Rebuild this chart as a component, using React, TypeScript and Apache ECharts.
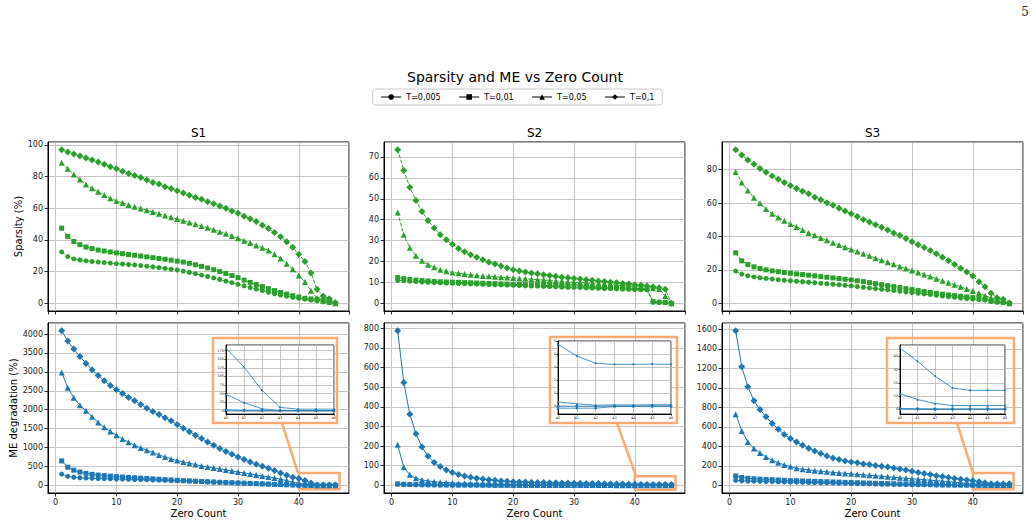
import React, { useEffect, useRef } from "react";
import * as echarts from "echarts";

// ---------- data ----------
const zeroCount = [1, 2, 3, 4, 5, 6, 7, 8, 9, 10, 11, 12, 13, 14, 15, 16, 17, 18, 19, 20, 21, 22, 23, 24, 25, 26, 27, 28, 29, 30, 31, 32, 33, 34, 35, 36, 37, 38, 39, 40, 41, 42, 43, 44, 45, 46];
const thresholdNames = ["T=0,005", "T=0,01", "T=0,05", "T=0,1"];
const panelTitles = ["S1", "S2", "S3"];

// S1 sparsity (%)
const s1SpT005 = [32.4, 29.5, 28.0, 27.3, 26.8, 26.4, 26.0, 25.7, 25.4, 25.0, 24.8, 24.5, 24.2, 23.8, 23.4, 23.0, 22.5, 22.0, 21.5, 21.0, 20.3, 19.5, 18.7, 17.8, 16.9, 16.0, 15.0, 14.0, 13.0, 12.0, 11.0, 10.0, 9.0, 8.0, 7.0, 6.0, 5.2, 4.5, 3.8, 3.2, 2.6, 2.0, 1.5, 1.0, 0.5, 0.0];
const s1SpT01 = [47.4, 42.2, 39.0, 37.0, 35.5, 34.5, 33.6, 33.0, 32.4, 31.8, 31.3, 30.8, 30.3, 29.8, 29.3, 28.8, 28.3, 27.8, 27.2, 26.6, 26.0, 25.2, 24.3, 23.3, 22.3, 21.2, 20.0, 18.8, 17.5, 16.2, 14.6, 13.2, 11.8, 10.5, 9.2, 8.0, 6.8, 5.8, 4.8, 4.0, 3.2, 2.8, 2.5, 2.0, 1.5, 0.0];
const s1SpT05 = [88.7, 84.8, 81.2, 78.1, 75.0, 72.5, 70.3, 68.3, 66.3, 64.6, 63.3, 62.0, 60.9, 59.8, 58.7, 57.6, 56.5, 55.4, 54.3, 53.2, 52.1, 51.0, 49.9, 48.8, 47.6, 46.4, 45.2, 43.9, 42.5, 41.0, 39.5, 38.0, 36.5, 35.0, 33.3, 31.0, 28.3, 25.0, 21.5, 17.5, 13.5, 8.0, 3.3, 1.8, 1.0, 0.0];
const s1SpT1 = [96.9, 95.4, 94.2, 92.9, 91.6, 90.4, 89.1, 87.7, 86.2, 84.8, 83.3, 81.8, 80.6, 79.3, 77.7, 76.2, 75.2, 73.5, 72.4, 71.0, 69.5, 68.1, 66.8, 65.6, 64.1, 62.8, 61.4, 59.9, 58.2, 56.8, 54.9, 53.4, 51.6, 49.3, 47.2, 44.7, 42.0, 38.8, 35.3, 30.9, 26.3, 19.2, 8.8, 4.6, 2.9, 0.4];

// S1 ME degradation (%)
const s1MeT005 = [295, 238, 212, 200, 192, 186, 180, 175, 170, 166, 162, 158, 154, 150, 146, 141, 137, 132, 127, 122, 117, 112, 106, 100, 94, 88, 82, 76, 70, 64, 58, 52, 46, 40, 34, 28, 22, 16, 10, 2, 1, 0.5, 0.5, 0.5, 0.5, 0.5];
const s1MeT01 = [645, 478, 400, 350, 315, 290, 270, 255, 242, 230, 220, 210, 200, 190, 180, 170, 160, 150, 140, 132, 124, 116, 108, 100, 92, 85, 78, 72, 66, 60, 54, 48, 42, 36, 30, 24, 18, 13, 9, 3, 2, 2, 1, 1, 1, 1];
const s1MeT05 = [2985, 2578, 2313, 2119, 1969, 1810, 1660, 1536, 1422, 1325, 1227, 1139, 1060, 989, 927, 865, 804, 751, 698, 653, 618, 583, 547, 512, 486, 459, 433, 406, 380, 353, 327, 300, 274, 247, 221, 194, 159, 124, 85, 48, 24, 6, 1, 1, 1, 1];
const s1MeT1 = [4088, 3815, 3603, 3408, 3223, 3055, 2905, 2764, 2640, 2525, 2428, 2322, 2234, 2137, 2040, 1951, 1872, 1784, 1704, 1607, 1510, 1413, 1325, 1236, 1148, 1060, 971, 892, 821, 751, 680, 618, 556, 503, 450, 389, 327, 265, 215, 182, 127, 60, 10, 5, 5, 5];

// S2 sparsity (%)
const s2SpT005 = [11.0, 10.8, 10.6, 10.4, 10.2, 10.0, 9.9, 9.8, 9.7, 9.6, 9.5, 9.4, 9.3, 9.2, 9.1, 9.0, 8.9, 8.8, 8.7, 8.6, 8.5, 8.4, 8.3, 8.2, 8.1, 8.0, 7.9, 7.8, 7.7, 7.6, 7.5, 7.4, 7.3, 7.2, 7.1, 7.0, 6.9, 6.8, 6.7, 6.6, 6.5, 6.4, 0.5, 0.4, 0.3, 0.0];
const s2SpT01 = [12.3, 11.8, 11.4, 11.1, 10.9, 10.7, 10.5, 10.3, 10.2, 10.1, 10.0, 9.9, 9.8, 9.7, 9.6, 9.5, 9.4, 9.3, 9.2, 9.1, 9.0, 8.9, 8.8, 8.7, 8.6, 8.5, 8.4, 8.3, 8.2, 8.1, 8.0, 7.9, 7.8, 7.7, 7.6, 7.5, 7.4, 7.3, 7.2, 7.1, 7.0, 6.9, 0.8, 0.6, 0.4, 0.0];
const s2SpT05 = [43.4, 32.8, 26.6, 22.8, 20.4, 18.5, 17.2, 16.1, 15.4, 14.8, 14.4, 14.0, 13.7, 13.4, 13.1, 12.9, 12.7, 12.5, 12.3, 12.1, 11.9, 11.7, 11.5, 11.3, 11.1, 10.9, 10.7, 10.5, 10.3, 10.1, 9.9, 9.7, 9.5, 9.3, 9.1, 8.9, 8.7, 8.5, 8.3, 8.1, 7.9, 7.6, 7.2, 6.8, 3.5, 0.0];
const s2SpT1 = [73.5, 63.6, 55.5, 49.2, 43.9, 39.6, 36.0, 32.8, 30.4, 28.2, 26.2, 24.7, 23.2, 22.0, 20.8, 19.7, 18.8, 17.8, 16.9, 16.1, 15.5, 15.0, 14.5, 14.1, 13.7, 13.3, 12.9, 12.5, 12.2, 11.9, 11.6, 11.3, 11.0, 10.7, 10.4, 10.1, 9.8, 9.5, 9.2, 8.9, 8.6, 8.3, 7.9, 7.5, 6.7, 0.0];

// S2 ME degradation (%)
const s2MeT005 = [5, 3.5, 2.8, 2.3, 2.0, 1.7, 1.5, 1.3, 1.15, 1.0, 0.9, 0.8, 0.7, 0.62, 0.55, 0.48, 0.42, 0.36, 0.3, 0.25, 0.2, 0.16, 0.12, 0.08, 0.05, 0.02, 0.0, -0.02, -0.04, -0.06, -0.08, -0.1, -0.11, -0.12, -0.13, -0.14, -0.15, -0.15, -0.15, -0.15, -0.15, -0.15, -0.03, -0.03, -0.03, -0.03];
const s2MeT01 = [7, 5, 4, 3.5, 3, 2.6, 2.3, 2.0, 1.8, 1.6, 1.4, 1.3, 1.2, 1.1, 1.0, 0.9, 0.8, 0.7, 0.6, 0.55, 0.5, 0.45, 0.4, 0.35, 0.3, 0.25, 0.2, 0.18, 0.15, 0.12, 0.1, 0.08, 0.06, 0.05, 0.04, 0.03, 0.02, 0.01, 0.0, 0.0, 0.0, 0.0, 0.02, 0.02, 0.03, 0.03];
const s2MeT05 = [206, 92, 53, 36, 27, 22, 18, 15, 13, 11, 9.5, 8.3, 7.3, 6.4, 5.6, 5.0, 4.4, 3.9, 3.5, 3.1, 2.8, 2.5, 2.2, 2.0, 1.8, 1.6, 1.4, 1.3, 1.2, 1.1, 1.0, 0.9, 0.8, 0.75, 0.7, 0.65, 0.6, 0.5, 0.4, 0.33, 0.18, 0.08, 0.1, 0.1, 0.12, 0.12];
const s2MeT1 = [788, 524, 362, 263, 195, 148, 116, 96, 78, 65, 55, 47, 41, 36, 32, 28, 25, 22, 20, 18, 17, 16, 15.2, 14.5, 13.8, 13.1, 12.5, 11.9, 11.3, 10.7, 10.1, 9.5, 8.9, 8.3, 7.7, 7.1, 6.5, 6.0, 5.4, 4.77, 3.87, 3.31, 3.23, 3.23, 3.25, 3.23];

// S3 sparsity (%)
const s3SpT005 = [19.3, 17.5, 16.5, 15.8, 15.3, 14.9, 14.5, 14.1, 13.8, 13.5, 13.2, 12.9, 12.6, 12.3, 12.0, 11.7, 11.4, 11.1, 10.8, 10.4, 10.0, 9.6, 9.2, 8.8, 8.4, 8.0, 7.6, 7.2, 6.8, 6.4, 6.0, 5.6, 5.2, 4.8, 4.4, 4.0, 3.6, 3.2, 2.9, 2.6, 2.3, 2.0, 1.0, 0.6, 0.3, 0.0];
const s3SpT01 = [30.2, 25.4, 23.2, 21.8, 20.8, 20.0, 19.4, 18.9, 18.4, 18.0, 17.6, 17.2, 16.8, 16.4, 16.0, 15.6, 15.2, 14.8, 14.4, 14.0, 13.5, 13.0, 12.4, 11.8, 11.2, 10.6, 10.0, 9.4, 8.8, 8.2, 7.6, 7.0, 6.5, 6.0, 5.5, 5.0, 4.6, 4.2, 3.8, 3.4, 3.0, 2.6, 1.5, 1.0, 0.6, 0.0];
const s3SpT05 = [78.6, 72.3, 67.5, 63.1, 59.8, 56.4, 53.6, 51.4, 49.4, 47.4, 45.7, 43.9, 42.1, 40.7, 39.1, 37.7, 36.3, 34.9, 33.5, 32.2, 31.0, 29.6, 28.4, 27.0, 25.8, 24.6, 23.4, 22.0, 20.8, 19.7, 18.5, 17.3, 16.1, 14.7, 13.5, 12.3, 11.1, 9.9, 8.5, 7.3, 6.0, 4.6, 3.2, 2.2, 1.8, 0.0];
const s3SpT1 = [91.9, 88.7, 85.8, 83.2, 80.6, 78.4, 76.2, 74.2, 72.3, 70.5, 68.7, 67.1, 65.5, 63.5, 61.9, 60.1, 58.6, 56.8, 55.2, 53.6, 52.0, 50.2, 48.6, 47.0, 45.5, 43.9, 42.1, 40.5, 38.7, 36.9, 35.1, 33.4, 31.6, 29.6, 27.6, 25.4, 23.2, 21.0, 18.7, 16.3, 12.9, 9.9, 6.0, 3.4, 2.4, 0.2];

// S3 ME degradation (%)
const s3MeT005 = [51, 46, 44, 42, 40.5, 39, 37.5, 36, 34.5, 33, 31.5, 30, 28.5, 27, 25.5, 24, 22.5, 21, 19.5, 18, 16.5, 15, 13.5, 12, 10.5, 9.5, 8.5, 7.5, 6.5, 5.7, 5.0, 4.3, 3.6, 3.0, 2.5, 2.0, 1.6, 1.2, 0.8, 0.4, 0.1, 0, 0, 0, 0, 0];
const s3MeT01 = [96, 80, 72, 67, 63, 60, 57, 54, 51, 48, 46, 44, 42, 40, 38, 36, 34, 32, 30, 28, 26, 24, 22, 20, 18.5, 17, 15.5, 14, 12.5, 11, 9.5, 8, 7, 6, 5, 4, 3, 2.2, 1.5, 0.8, 0.6, 0.5, 0.5, 0.5, 0.5, 0.5];
const s3MeT05 = [730, 558, 445, 377, 332, 291, 257, 230, 209, 192, 175, 165, 158, 150, 144, 138, 132, 127, 122, 117, 112, 107, 102, 97, 92, 87, 82, 77, 72, 67, 62, 57, 52, 47, 42, 37, 31, 25, 18, 11.9, 7.5, 4.5, 3, 3, 3, 3];
const s3MeT1 = [1586, 1216, 1011, 867, 778, 702, 634, 576, 521, 480, 445, 411, 380, 353, 325, 301, 281, 264, 250, 240, 230, 219, 212, 202, 195, 188, 178, 168, 158, 144, 130, 120, 110, 99, 89, 80, 70, 62, 54, 46.2, 36.3, 25.1, 16.1, 14.4, 14.4, 14.4];

// tick steps
const sparsitySteps = [20, 10, 20];
const meSteps = [500, 100, 200];
const insetSteps = [25, 1, 10];
const insetYRanges = [[-9.1, 191.1], [-0.6, 5.03], [-3.4, 48.5]];
const insetFrom = 40;

// ---------- style ----------
const FONT = "DejaVu Sans";
const GREEN = "#2ca02c";
const BLUE = "#1f77b4";
const ORANGE = "#fbac76";
const GRIDLINE = "#b8b8b8";
const SYMBOLS = ["circle", "rect", "triangle", "diamond"];
const SYMBOL_SIZES = [5, 5, 6, 7];

const sparsitySets = [
  [s1SpT005, s1SpT01, s1SpT05, s1SpT1],
  [s2SpT005, s2SpT01, s2SpT05, s2SpT1],
  [s3SpT005, s3SpT01, s3SpT05, s3SpT1],
];
const meSets = [
  [s1MeT005, s1MeT01, s1MeT05, s1MeT1],
  [s2MeT005, s2MeT01, s2MeT05, s2MeT1],
  [s3MeT005, s3MeT01, s3MeT05, s3MeT1],
];

function paddedRange(sets: number[][]) {
  const all = sets.flat();
  const mn = Math.min(...all);
  const mx = Math.max(...all);
  const r = mx - mn;
  return [mn - 0.05 * r, mx + 0.05 * r];
}

const plainNumber = (v: number) => String(Math.round(v * 1000) / 1000);

const colLefts = [48, 384, 722];
const colWidth = 301;
const topRow = { top: 142, height: 169 };
const botRow = { top: 323, height: 170 };
const insetGrids = [
  { left: 226, top: 345, width: 108, height: 69 },
  { left: 558, top: 341, width: 113, height: 73 },
  { left: 900, top: 345, width: 105, height: 69 },
];
const insetBoxes = [
  { x: 213, y: 338, w: 124, h: 85 },
  { x: 550, y: 337, w: 127, h: 86 },
  { x: 887, y: 338, w: 127, h: 85 },
];
const connectors = [
  [298, 473, 282, 423],
  [636, 476, 617, 423],
  [973, 473, 957, 423],
];
const zoomRects = [
  [[40, -106], [46.7, 326]],
  [[40, -23.5], [46.7, 46]],
  [[40, -41], [46.7, 126]],
];

function buildOption() {
  const grid: any[] = [];
  const xAxis: any[] = [];
  const yAxis: any[] = [];
  const series: any[] = [];

  const baseAxis = (gridIndex: number, showLabels: boolean, z = 0) => ({
    gridIndex,
    type: "value",
    z,
    axisLine: { show: true, onZero: false, lineStyle: { color: "#000", width: 1 } },
    axisTick: { show: true, inside: false, length: 3.5, lineStyle: { color: "#000", width: 0.8 } },
    axisLabel: {
      show: showLabels,
      fontSize: 8,
      fontFamily: FONT,
      color: "#222",
      margin: 5,
      showMinLabel: false,
      showMaxLabel: false,
      formatter: plainNumber,
    },
    splitLine: { show: true, lineStyle: { color: GRIDLINE, width: 0.8 } },
  });

  const nameStyle = { fontSize: 10, fontFamily: FONT, color: "#000", fontWeight: "normal" };

  // main panels
  for (let row = 0; row < 2; row++) {
    for (let col = 0; col < 3; col++) {
      const gi = row * 3 + col;
      const r = row === 0 ? topRow : botRow;
      grid.push({
        left: colLefts[col],
        top: r.top,
        width: colWidth,
        height: r.height,
        show: true,
        borderColor: "#000",
        borderWidth: 1,
        backgroundColor: "transparent",
      });
      const sets = row === 0 ? sparsitySets[col] : meSets[col];
      const [ymin, ymax] = paddedRange(sets);
      const step = row === 0 ? sparsitySteps[col] : meSteps[col];
      const xa: any = {
        ...baseAxis(gi, row === 1),
        min: -1.25,
        max: 48.25,
        minInterval: 10,
        maxInterval: 10,
      };
      if (row === 1) {
        xa.name = "Zero Count";
        xa.nameLocation = "middle";
        xa.nameGap = 15;
        xa.nameTextStyle = nameStyle;
      }
      xAxis.push(xa);
      const ya: any = {
        ...baseAxis(gi, true),
        min: ymin,
        max: ymax,
        minInterval: step,
        maxInterval: step,
      };
      if (col === 0) {
        ya.name = row === 0 ? "Sparsity (%)" : "ME degradation (%)";
        ya.nameLocation = "middle";
        ya.nameGap = row === 0 ? 25 : 30;
        ya.nameTextStyle = nameStyle;
      }
      yAxis.push(ya);

      sets.forEach((vals, k) => {
        const s: any = {
          type: "line",
          name: thresholdNames[k],
          xAxisIndex: gi,
          yAxisIndex: gi,
          data: zeroCount.map((x, i) => [x, vals[i]]),
          symbol: SYMBOLS[k],
          symbolSize: SYMBOL_SIZES[k],
          lineStyle: { color: row === 0 ? GREEN : BLUE, width: 1, type: row === 0 ? [3.7, 1.6] : "solid" },
          itemStyle: { color: row === 0 ? GREEN : BLUE },
          emphasis: { disabled: true },
          silent: true,
          z: 2 + k,
        };
        if (row === 1 && k === 3) {
          s.markArea = {
            silent: true,
            itemStyle: { color: "rgba(0,0,0,0)", borderColor: ORANGE, borderWidth: 2.5 },
            data: [[{ coord: zoomRects[col][0] }, { coord: zoomRects[col][1] }]],
          };
        }
        series.push(s);
      });
    }
  }

  // insets
  for (let col = 0; col < 3; col++) {
    const gi = 6 + col;
    grid.push({
      ...insetGrids[col],
      show: true,
      borderColor: "#000",
      borderWidth: 0.8,
      backgroundColor: "#fff",
      z: 5,
    });
    const xa: any = baseAxis(gi, true, 6);
    xa.min = insetFrom;
    xa.max = 46;
    xa.interval = 1;
    xa.axisTick.length = 1.5;
    xa.axisLabel = { ...xa.axisLabel, fontSize: 3.5, margin: 2, showMinLabel: true, showMaxLabel: true };
    xAxis.push(xa);
    const ya: any = baseAxis(gi, true, 6);
    ya.min = insetYRanges[col][0];
    ya.max = insetYRanges[col][1];
    ya.minInterval = insetSteps[col];
    ya.maxInterval = insetSteps[col];
    ya.axisTick.length = 1.5;
    ya.axisLabel = { ...ya.axisLabel, fontSize: 3.5, margin: 2 };
    yAxis.push(ya);

    meSets[col].forEach((vals, k) => {
      const start = zeroCount.indexOf(insetFrom);
      series.push({
        type: "line",
        name: thresholdNames[k],
        xAxisIndex: gi,
        yAxisIndex: gi,
        data: zeroCount.slice(start).map((x, i) => [x, vals[start + i]]),
        symbol: SYMBOLS[k],
        symbolSize: 2.5,
        lineStyle: { color: BLUE, width: 0.8 },
        itemStyle: { color: BLUE },
        emphasis: { disabled: true },
        silent: true,
        z: 7,
      });
    });
  }

  const graphic: any[] = [
    {
      type: "text",
      x: 515,
      y: 77,
      style: { text: "Sparsity and ME vs Zero Count", fontSize: 14, fontFamily: FONT, fill: "#000", align: "center", verticalAlign: "middle" },
    },
    {
      type: "text",
      x: 1025,
      y: 12,
      style: { text: "5", fontSize: 12, fontFamily: "DejaVu Serif", fill: "#222", align: "center", verticalAlign: "middle" },
    },
  ];
  panelTitles.forEach((t, col) => {
    graphic.push({
      type: "text",
      x: colLefts[col] + colWidth / 2,
      y: 133,
      style: { text: t, fontSize: 12, fontFamily: FONT, fill: "#000", align: "center", verticalAlign: "middle" },
    });
    const b = insetBoxes[col];
    graphic.push({
      type: "rect",
      z: 20,
      shape: { x: b.x, y: b.y, width: b.w, height: b.h },
      style: { fill: "none", stroke: ORANGE, lineWidth: 2.5 },
    });
    const c = connectors[col];
    graphic.push({
      type: "line",
      z: 20,
      shape: { x1: c[0], y1: c[1], x2: c[2], y2: c[3] },
      style: { stroke: ORANGE, lineWidth: 2.5 },
    });
  });

  return {
    animation: false,
    backgroundColor: "#fff",
    textStyle: { fontFamily: FONT },
    legend: {
      top: 89,
      left: "center",
      orient: "horizontal",
      selectedMode: false,
      data: thresholdNames.map((n) => ({
        name: n,
        itemStyle: { color: "#000" },
        lineStyle: { color: "#000", type: "solid", width: 1 },
      })),
      itemWidth: 20,
      itemHeight: 7,
      itemGap: 18,
      padding: [4, 8],
      borderColor: "#ccc",
      borderWidth: 1,
      borderRadius: 3,
      textStyle: { fontSize: 8, fontFamily: FONT, color: "#000" },
    },
    grid,
    xAxis,
    yAxis,
    series,
    graphic,
  };
}

export default function App() {
  const ref = useRef<HTMLDivElement>(null);
  useEffect(() => {
    if (!ref.current) return;
    const chart = echarts.init(ref.current, undefined, { renderer: "svg" });
    chart.setOption(buildOption() as any);
    return () => chart.dispose();
  }, []);
  return (
    <div
      ref={ref}
      style={{ position: "fixed", left: 0, top: 0, width: 1035, height: 525, background: "#fff" }}
    />
  );
}
